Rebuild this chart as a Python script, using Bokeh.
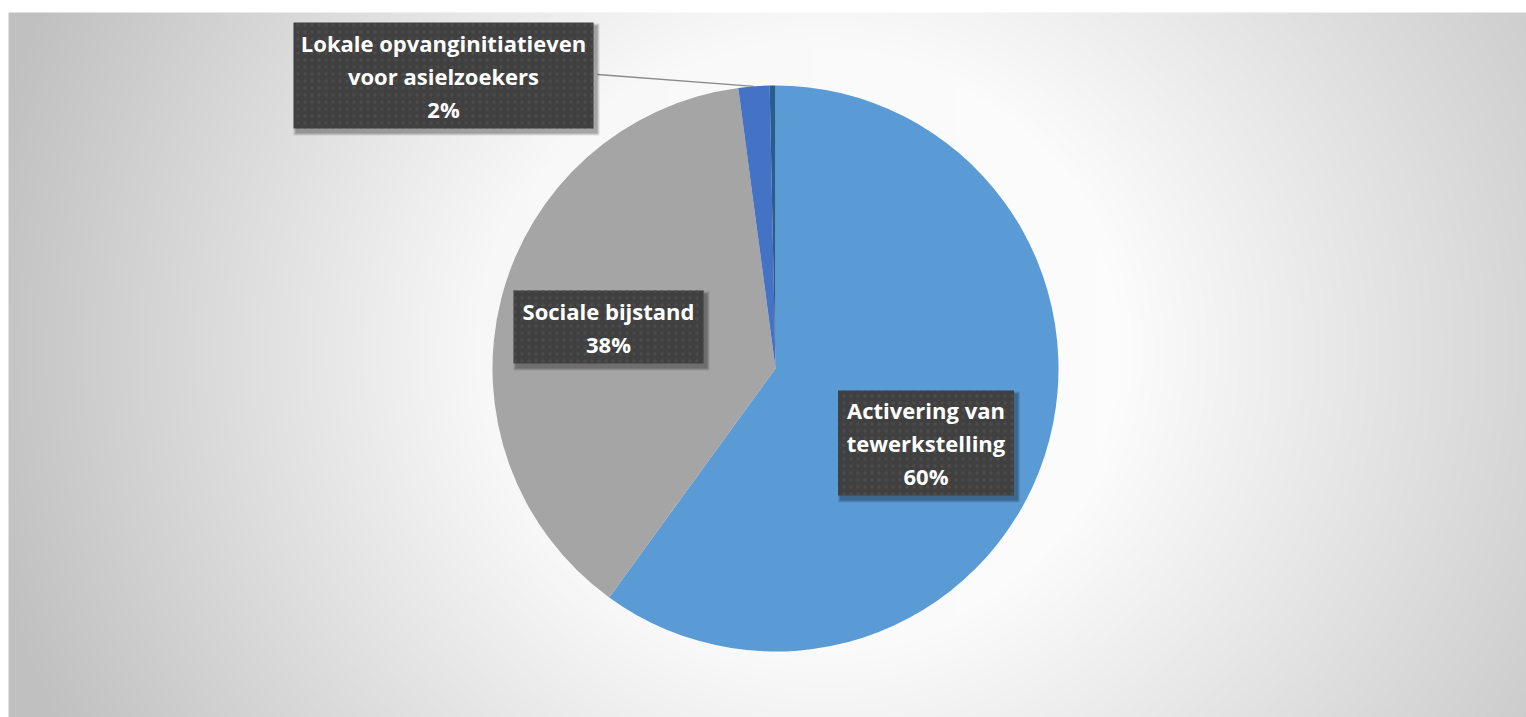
import numpy as np
from bokeh.plotting import figure
from bokeh.models import Range1d, ColumnDataSource
from bokeh.core.properties import value
from bokeh.embed import file_html
from bokeh.resources import INLINE

# ---- data ----
categories = ["Activering van tewerkstelling", "Sociale bijstand",
              "Lokale opvanginitiatieven voor asielzoekers", "Overige"]
shares = [60.0, 37.9, 1.77, 0.33]
colors = ["#5B9BD5", "#A5A5A5", "#4472C4", "#255E91"]
label_lines = [["Activering van", "tewerkstelling"],
               ["Sociale bijstand"],
               ["Lokale opvanginitiatieven", "voor asielzoekers"],
               None]

W, H = 1526, 717
p = figure(width=W, height=H, output_backend="svg", toolbar_location=None,
           x_range=Range1d(0, W), y_range=Range1d(0, H), min_border=0)
p.axis.visible = False
p.grid.visible = False
p.outline_line_color = None
p.background_fill_color = "white"
p.border_fill_color = "white"

def Y(py):
    return H - py

# ---- radial gradient background ----
cx_px, cy_px, R = 775, 368, 283
x0, x1, top = 8, W, 12
nx, ny = (x1 - x0) // 2, (H - top) // 2
xs = np.linspace(x0, x1, nx)
ys = np.linspace(H, top, ny)  # data rows go bottom -> top
XX, YY = np.meshgrid(xs, ys)
rr = np.sqrt((XX - 800) ** 2 + ((YY - 350) * 1.05) ** 2)
g = 255 - 0.1 * np.clip(rr - 320, 0, None) - 0.007 * (1526 - XX)
g = np.clip(g, 192, 255).astype(np.uint8)
img = np.zeros((ny, nx), dtype=np.uint32)
view = img.view(dtype=np.uint8).reshape((ny, nx, 4))
view[:, :, 0] = g
view[:, :, 1] = g
view[:, :, 2] = g
view[:, :, 3] = 255
p.image_rgba(image=[img], x=x0, y=0, dw=x1 - x0, dh=H - top)

# ---- pie ----
total = sum(shares)
fr = np.array(shares) / total
cum = np.concatenate([[0], np.cumsum(fr)])
start = np.pi / 2 - 2 * np.pi * cum[:-1]
end = np.pi / 2 - 2 * np.pi * cum[1:]
src = ColumnDataSource(dict(start=start, end=end, color=colors, cat=categories))
p.wedge(x=cx_px, y=Y(cy_px), radius=R, start_angle="start", end_angle="end",
        direction="clock", fill_color="color", line_color=None, source=src)

# ---- labels ----
pct = [f"{round(f * 100):d}%" for f in fr]
# box layout (pixel coords): cx, cy, w, h
boxes = [(925.5, 442.5, 176, 105), (608, 326.5, 190, 73), (443, 75, 300, 106), None]
line_gap = 33

# leader line for the small slice
mid = (start[2] + end[2]) / 2
ex = cx_px + R * np.cos(mid)
ey = Y(cy_px) + R * np.sin(mid)
p.line([597, ex], [Y(74), ey], line_color="#8a8a8a", line_width=1.3)

for i, b in enumerate(boxes):
    if b is None:
        continue
    bx, by, bw, bh = b
    for k, a in enumerate([0.10, 0.12, 0.15]):
        p.rect(x=bx + 3, y=Y(by + 4), width=bw + 6 - 2 * k, height=bh + 6 - 2 * k,
               fill_color="black", fill_alpha=a, line_color=None)
    p.rect(x=bx, y=Y(by), width=bw, height=bh, fill_color="#404040",
           line_color=None, hatch_pattern="dot", hatch_color="#4b4b4b",
           hatch_scale=7, hatch_weight=1.0)
    lines = label_lines[i] + [pct[i]]
    n = len(lines)
    ys_ = [by + (k - (n - 1) / 2) * line_gap for k in range(n)]
    p.text(x=[bx] * n, y=[Y(v) for v in ys_], text=lines,
           text_font=value("Open Sans"), text_font_style="bold",
           text_font_size="22px", text_color="white",
           text_align="center", text_baseline="middle")

open("out.html", "w").write(file_html(p, INLINE))
